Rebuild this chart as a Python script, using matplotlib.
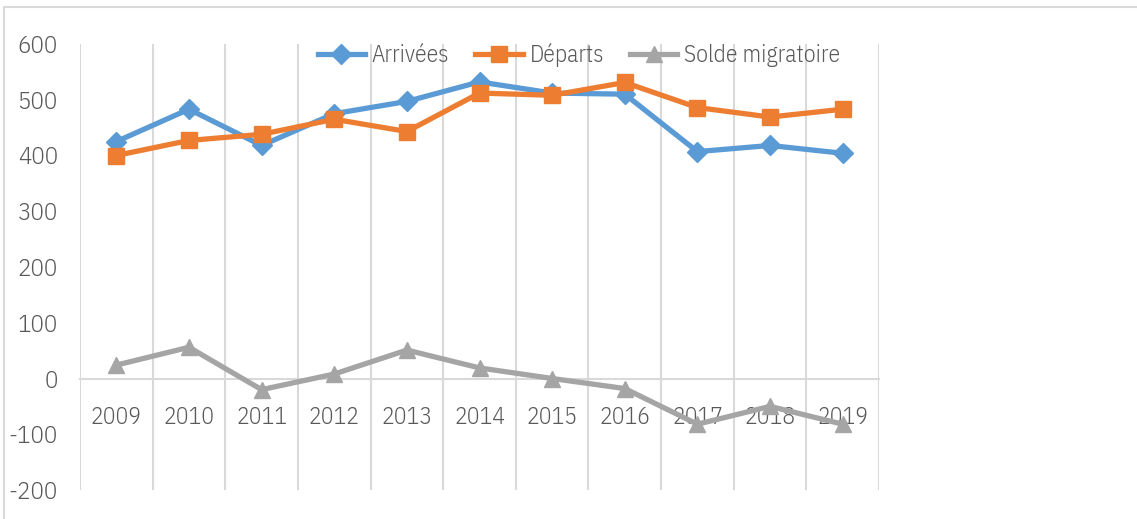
import matplotlib
matplotlib.use("Agg")
import matplotlib.pyplot as plt
import numpy as np
from matplotlib.patches import Rectangle

years = ["2009", "2010", "2011", "2012", "2013", "2014", "2015", "2016", "2017", "2018", "2019"]
arrivees = [425, 483, 418, 475, 497, 532, 512, 510, 407, 418, 404]
departs = [400, 427, 438, 465, 443, 512, 508, 531, 486, 469, 483]
solde = [24, 56, -20, 8, 51, 19, 0, -18, -82, -50, -82]
yticks = [-200, -100, 0, 100, 200, 300, 400, 500, 600]

plt.rcParams['font.family'] = ['IBM Plex Sans Condensed', 'Carlito', 'DejaVu Sans']
plt.rcParams['font.weight'] = 300
txt = '#595959'
grid = '#D9D9D9'

fig = plt.figure(figsize=(11.37, 5.19), dpi=100)
W, H = 1137, 519
ax = fig.add_axes([80 / W, (H - 490) / H, (879 - 80) / W, (490 - 44) / H])

# chart area border
fig.patches.append(Rectangle((4 / W, -0.1), 1.2, (H - 7) / H + 0.1, transform=fig.transFigure,
                             fill=False, edgecolor=grid, linewidth=1.5))

x = np.arange(len(years))
ax.plot(x, arrivees, color='#5B9BD5', lw=3.8, marker='D', ms=10, label='Arrivées', zorder=3)
ax.plot(x, departs, color='#ED7D31', lw=3.8, marker='s', ms=11, label='Départs', zorder=3)
ax.plot(x, solde, color='#A5A5A5', lw=3.8, marker='^', ms=12, label='Solde migratoire', zorder=3)

ax.set_xlim(-0.5, len(years) - 0.5)
ax.set_ylim(-200, 600)
ax.set_yticks(yticks)
ax.set_yticklabels([str(v) for v in yticks])
ax.set_xticks(x)
ax.set_xticklabels(years)
ax.set_xticks(np.arange(-0.5, len(years)), minor=True)
ax.grid(True, which='minor', axis='x', color=grid, lw=1.5)
ax.tick_params(axis='both', which='both', length=0)
ax.tick_params(axis='x', which='major', pad=20, labelsize=17, labelcolor=txt)
ax.tick_params(axis='y', which='major', pad=16, labelsize=18, labelcolor=txt)
for s in ['top', 'right', 'left']:
    ax.spines[s].set_visible(False)
ax.spines['bottom'].set_position(('data', 0))
ax.spines['bottom'].set_color(grid)
ax.spines['bottom'].set_linewidth(1.5)

leg = fig.legend(loc='center', bbox_to_anchor=(579 / W, (H - 55) / H), ncol=3, frameon=False,
                 fontsize=17, handlelength=2.0, columnspacing=1.1, handletextpad=0.3,
                 labelcolor=txt)

fig.savefig('out.png', dpi=100)
